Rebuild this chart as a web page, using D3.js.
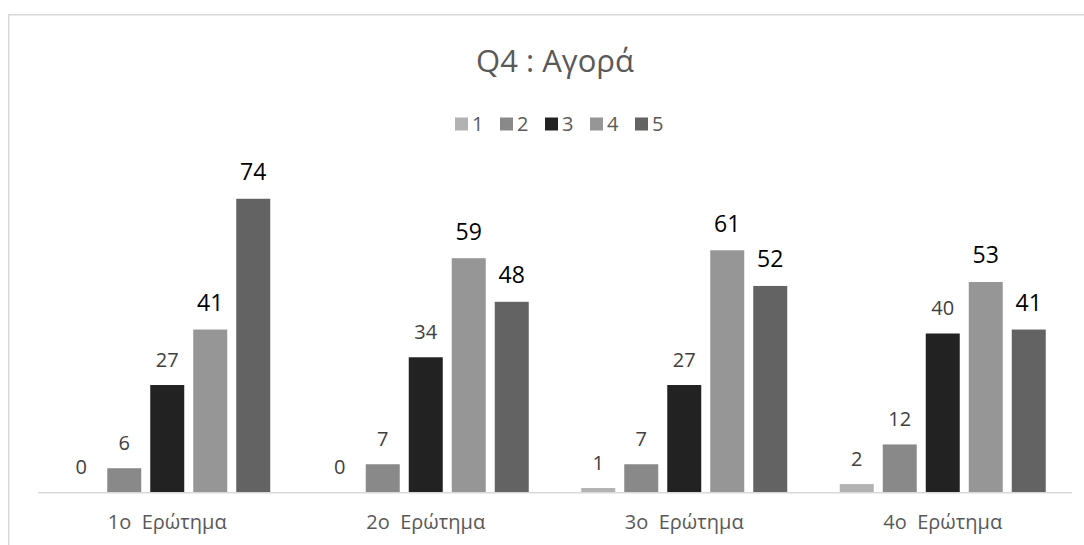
<!DOCTYPE html>
<html>
<head>
<meta charset="utf-8">
<script src="https://cdn.jsdelivr.net/npm/d3@7"></script>
<style>
  html, body { margin: 0; padding: 0; background: #fff; }
  svg { display: block; font-family: "Open Sans", "Noto Sans", sans-serif; }
</style>
</head>
<body>
<script>
const categories = ["1ο  Ερώτημα", "2ο  Ερώτημα", "3ο  Ερώτημα", "4ο  Ερώτημα"];
const seriesNames = ["1", "2", "3", "4", "5"];
const s1 = [0, 0, 1, 2];
const s2 = [6, 7, 7, 12];
const s3 = [27, 34, 27, 40];
const s4 = [41, 59, 61, 53];
const s5 = [74, 48, 52, 41];
const seriesValues = [s1, s2, s3, s4, s5];
const seriesColors = ["#b2b2b2", "#898989", "#222222", "#969696", "#636363"];
const title = "Q4 : Αγορά";

const W = 1084, H = 545;
const svg = d3.select("body").append("svg").attr("width", W).attr("height", H);

// chart area border
svg.append("rect").attr("x", 8.75).attr("y", 14.75).attr("width", 1200).attr("height", 700)
  .attr("fill", "none").attr("stroke", "#d9d9d9").attr("stroke-width", 1.5);

// title
svg.append("text").attr("x", 555).attr("y", 72).attr("text-anchor", "middle")
  .attr("font-size", 31).attr("fill", "#595959").text(title);

// legend
const legX0 = 455, legStep = 45;
const leg = svg.append("g");
seriesNames.forEach((n, i) => {
  const g = leg.append("g").attr("transform", `translate(${legX0 + i * legStep},0)`);
  g.append("rect").attr("x", 0).attr("y", 117.5).attr("width", 13).attr("height", 13).attr("fill", seriesColors[i]);
  g.append("text").attr("x", 17).attr("y", 131).attr("font-size", 20).attr("fill", "#595959").text(n);
});

// scales
const plotLeft = 38, plotRight = 1072, baseY = 492, topY = 175;
const x0 = d3.scaleBand().domain(categories).range([plotLeft, plotRight]).paddingInner(0).paddingOuter(0);
const innerW = 206;
const x1 = d3.scaleBand().domain(seriesNames)
  .range([(x0.bandwidth() - innerW) / 2, (x0.bandwidth() + innerW) / 2])
  .paddingInner(9 / 43).paddingOuter(0);
const y = d3.scaleLinear().domain([0, 80]).range([baseY, topY]);

const data = categories.map((c, ci) => ({
  cat: c,
  vals: seriesNames.map((s, si) => ({ s, si, v: seriesValues[si][ci] }))
}));

const groups = svg.append("g").selectAll("g").data(data).join("g")
  .attr("transform", d => `translate(${x0(d.cat)},0)`);

groups.selectAll("rect").data(d => d.vals).join("rect")
  .attr("x", d => x1(d.s)).attr("width", x1.bandwidth())
  .attr("y", d => y(d.v)).attr("height", d => y(0) - y(d.v))
  .attr("fill", d => seriesColors[d.si]);

groups.selectAll("text.lbl").data(d => d.vals).join("text")
  .attr("class", "lbl")
  .attr("x", d => x1(d.s) + x1.bandwidth() / 2)
  .attr("y", d => y(d.v) - 18.5)
  .attr("text-anchor", "middle")
  .attr("font-size", d => d.si >= 3 ? 23 : 20)
  .attr("fill", d => d.si >= 3 ? "#000000" : "#404040")
  .text(d => d.v);

// x axis line
svg.append("line").attr("x1", plotLeft).attr("x2", plotRight).attr("y1", baseY + 0.75).attr("y2", baseY + 0.75)
  .attr("stroke", "#d9d9d9").attr("stroke-width", 1.5);

// category labels
const xAxis = d3.axisBottom(x0).tickSize(0).tickPadding(0);
const ax = svg.append("g").attr("transform", `translate(0,${baseY})`).call(xAxis);
ax.select(".domain").remove();
ax.selectAll("text").attr("y", 37).attr("dy", 0)
  .attr("font-size", 20).attr("fill", "#595959")
  .style("font-family", "\"Open Sans\", \"Noto Sans\", sans-serif")
  .style("white-space", "pre");
</script>
</body>
</html>
